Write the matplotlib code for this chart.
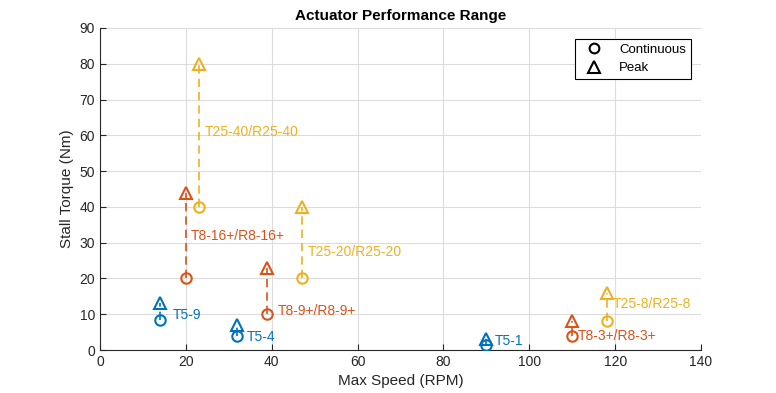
import matplotlib.pyplot as plt
from matplotlib.lines import Line2D

plt.rcParams['font.family'] = ['Liberation Sans', 'DejaVu Sans']

# actuator data: speed (RPM), continuous and peak stall torque (Nm)
names = ['T5-9', 'T5-4', 'T5-1',
         'T8-16+/R8-16+', 'T8-9+/R8-9+', 'T8-3+/R8-3+',
         'T25-40/R25-40', 'T25-20/R25-20', 'T25-8/R25-8']
family = ['T5', 'T5', 'T5', 'T8', 'T8', 'T8', 'T25', 'T25', 'T25']
speed = [14, 32, 90, 20, 39, 110, 23, 47, 118]
cont_torque = [8.5, 4, 1.5, 20, 10, 4, 40, 20, 8]
peak_torque = [13, 7, 3, 44, 23, 8, 80, 40, 16]

# where each label sits (data units)
label_x = [17, 34.2, 92, 21.2, 41.5, 111.3, 24.5, 48.5, 119.5]
label_y = [9.8, 3.6, 2.5, 32, 10.9, 3.9, 61, 27.4, 12.9]

colors = {'T5': '#0072BD', 'T8': '#D95319', 'T25': '#EDB120'}

fig = plt.figure(figsize=(7.76, 3.93), dpi=100)
ax = fig.add_axes([0.1289, 0.1094, 0.7745, 0.8194])

for i in range(len(names)):
    c = colors[family[i]]
    ax.plot([speed[i], speed[i]], [cont_torque[i], peak_torque[i]], color=c,
            linestyle=(0, (5, 3)), linewidth=1.2, zorder=3)
    ax.plot(speed[i], cont_torque[i], marker='o', markersize=7.5, mfc='none',
            mec=c, mew=1.5, linestyle='none', zorder=4)
    ax.plot(speed[i], peak_torque[i], marker='^', markersize=8.5, mfc='none',
            mec=c, mew=1.5, linestyle='none', zorder=4)
    ax.text(label_x[i], label_y[i], names[i], color=c, fontsize=10,
            va='center', ha='left')

ax.set_xlim(0, 140)
ax.set_ylim(0, 90)
ax.set_xticks(range(0, 141, 20))
ax.set_yticks(range(0, 91, 10))
ax.grid(True, color='#dcdcdc', linewidth=0.8)
ax.set_axisbelow(True)
ax.spines['top'].set_visible(False)
ax.spines['right'].set_visible(False)
for s in ['left', 'bottom']:
    ax.spines[s].set_color('#262626')
ax.tick_params(direction='in', length=4, labelsize=10, colors='#262626')

ax.set_xlabel('Max Speed (RPM)', fontsize=11, color='#262626')
ax.set_ylabel('Stall Torque (Nm)', fontsize=11, color='#262626')
ax.set_title('Actuator Performance Range', fontsize=11, fontweight='bold')

handles = [
    Line2D([], [], marker='o', color='k', mfc='none', mew=1.5, markersize=7, linestyle='none'),
    Line2D([], [], marker='^', color='k', mfc='none', mew=1.5, markersize=8, linestyle='none'),
]
leg = ax.legend(handles, ['Continuous', 'Peak'], loc='upper right',
                bbox_to_anchor=(0.983, 0.965), fontsize=9.5, fancybox=False,
                framealpha=1, edgecolor='k', borderpad=0.35, labelspacing=0.45,
                handletextpad=0.8, handlelength=2.2, borderaxespad=0)
leg.get_frame().set_linewidth(0.8)

fig.savefig('out.png', dpi=100)
